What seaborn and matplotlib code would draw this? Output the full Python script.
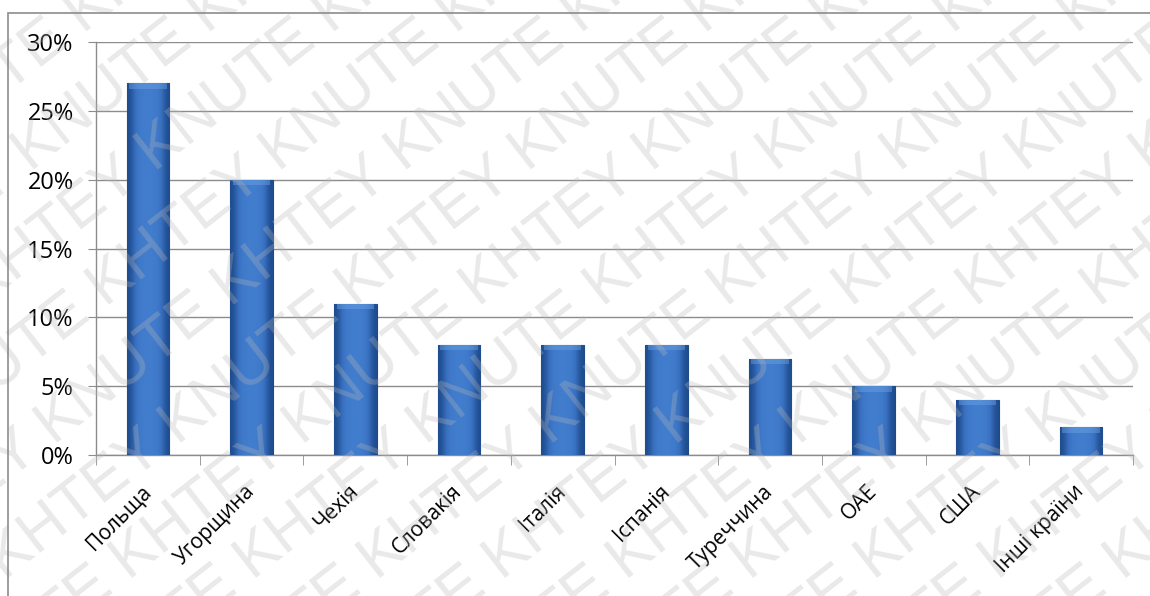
import matplotlib
matplotlib.use("Agg")
import matplotlib.pyplot as plt
import seaborn as sns
import numpy as np
import pandas as pd
from matplotlib.patches import Rectangle
from matplotlib.ticker import PercentFormatter, FixedLocator

countries = ["Польща", "Угорщина", "Чехія", "Словакія", "Італія",
             "Іспанія", "Туреччина", "ОАЕ", "США", "Інші країни"]
shares = [27, 20, 11, 8, 8, 8, 7, 5, 4, 2]

df = pd.DataFrame({"country": countries, "share": shares})

sns.set_style("white")
plt.rcParams["font.family"] = ["Open Sans", "DejaVu Sans"]

fig = plt.figure(figsize=(11.5, 5.96), dpi=100)
ax = fig.add_axes([96 / 1150, 141 / 596, 1037 / 1150, 413 / 596])

sns.barplot(data=df, x="country", y="share", color="#3b73c3",
            width=0.41, edgecolor="#1f4a88", linewidth=0.8, ax=ax, zorder=3)

# bevel-like horizontal gradient inside each bar
grad = np.array([[0.0, 0.45, 0.75, 0.85, 0.85, 0.75, 0.45, 0.0]])
cmap = matplotlib.colors.LinearSegmentedColormap.from_list(
    "bev", ["#1e4c8e", "#3a72c2", "#4683d3"])
for p in ax.patches:
    x0, w, h = p.get_x(), p.get_width(), p.get_height()
    im = ax.imshow(grad, cmap=cmap, aspect="auto", vmin=0, vmax=1,
                   extent=[x0, x0 + w, 0, h], zorder=3.5,
                   interpolation="bicubic")
    im.set_clip_path(p)
    ax.add_patch(Rectangle((x0 + 0.06 * w, h - 0.4), 0.88 * w, 0.4,
                           facecolor="#6da3e3", edgecolor="none",
                           zorder=3.6, alpha=0.45))
ax.set_xlim(-0.5, len(countries) - 0.5)
ax.set_ylim(0, 30)

ax.set_yticks(range(0, 31, 5))
ax.yaxis.set_major_formatter(PercentFormatter(decimals=0))
ax.grid(axis="y", color="#8c8c8c", linewidth=1.0, zorder=0)
ax.set_axisbelow(True)

ax.set_xlabel("")
ax.set_ylabel("")
for s in ["top", "right"]:
    ax.spines[s].set_visible(False)
for s in ["left", "bottom"]:
    ax.spines[s].set_color("#8c8c8c")
    ax.spines[s].set_linewidth(1.0)

ax.tick_params(axis="y", length=6, color="#8c8c8c", labelsize=17, pad=10,
               left=True, labelcolor="black")
ax.tick_params(axis="x", which="major", length=0, labelsize=15, pad=24,
               labelcolor="black")
ax.xaxis.set_minor_locator(FixedLocator(np.arange(-0.5, len(countries), 1.0)))
ax.tick_params(axis="x", which="minor", length=7, color="#8c8c8c",
               bottom=True)
for lab in ax.get_xticklabels():
    lab.set_rotation(45)
    lab.set_ha("right")
    lab.set_va("center")
    lab.set_rotation_mode("anchor")

# watermark
wm = "KHTEY KNUTE " * 5
for i in range(-12, 12):
    fig.text(i * 0.108, -0.45, wm, rotation=38, fontsize=44,
             color="#b8b8b8", alpha=0.3, family="Liberation Sans",
             ha="left", va="bottom", zorder=10)

# outer chart border
fig.patches.append(Rectangle((8 / 1150, -0.01), 1.0, (596 - 13) / 596 + 0.01,
                             transform=fig.transFigure, fill=False,
                             edgecolor="#8c8c8c", linewidth=1.2, zorder=11))

fig.savefig("out.png", dpi=100)
